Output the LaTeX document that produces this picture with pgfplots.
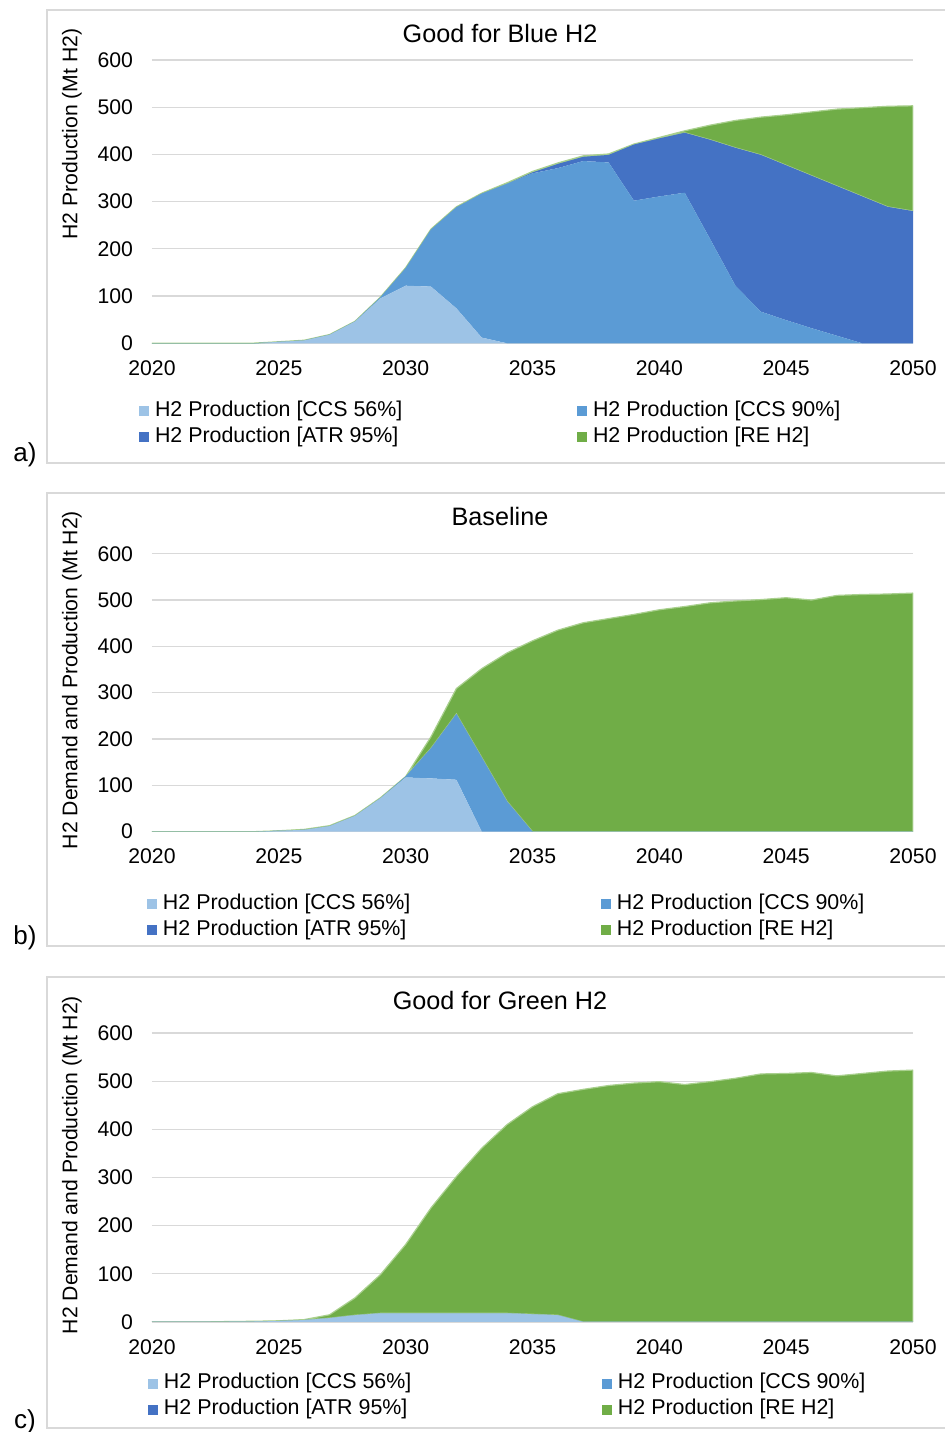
\documentclass[border=0pt]{standalone}
\usepackage{fontspec}
\setmainfont{Liberation Sans}
\usepackage{pgfplots}
\usepackage{pgfplotstable}
\pgfplotsset{compat=1.18}
\definecolor{cA}{HTML}{9DC3E6}
\definecolor{cB}{HTML}{5B9BD5}
\definecolor{cC}{HTML}{4472C4}
\definecolor{cD}{HTML}{70AD47}
\definecolor{reLine}{HTML}{A9D08E}
\definecolor{gridgray}{HTML}{D9D9D9}
\definecolor{framegray}{HTML}{D9D9D9}
\newcommand\ticksize{\fontsize{10.6}{12.7}\selectfont}
\newcommand\legsize{\fontsize{10.7}{12.8}\selectfont}
\newcommand\titlesize{\fontsize{12.6}{15}\selectfont}
\newcommand\panelsize{\fontsize{13}{15.6}\selectfont}

\pgfplotstableread{
year c56 c90 atr re
2020 0 0 0 0
2021 0 0 0 0
2022 0 0 0 0
2023 0 0 0 0
2024 0 0 0 0.3
2025 3 0 0 0.3
2026 6 0 0 0.5
2027 18 0 0 0.5
2028 46 0 0 0.5
2029 95 2 0 0.5
2030 122 37 0 1
2031 120 121 0 1
2032 74 214 0 1
2033 12 305 0 1
2034 0 338 0 2
2035 0 360 2 2
2036 0 371 9 2
2037 0 386 9 2
2038 0 383 16 2
2039 0 302 119 1
2040 0 311 123 2
2041 0 319 127 4
2042 0 221 210 31
2043 0 122 292 58
2044 0 67 332 80
2045 0 49 328 107
2046 0 32 323 135
2047 0 16 317 163
2048 0 0 311 188
2049 0 0 289 213
2050 0 0 280 223
}\dataA

\pgfplotstableread{
year c56 c90 atr re
2020 0 0 0 0
2021 0 0 0 0
2022 0 0 0 0
2023 0 0 0 0
2024 0 0 0 0
2025 2 0 0 0
2026 4 0 0 1
2027 12 0 0 1
2028 34 0 0 1
2029 72 0 0 1
2030 117 2 0 0
2031 115 65 0 25
2032 112 142 0 55
2033 0 160 0 192
2034 0 65 0 321
2035 0 0 0 412
2036 0 0 0 435
2037 0 0 0 451
2038 0 0 0 460
2039 0 0 0 469
2040 0 0 0 479
2041 0 0 0 486
2042 0 0 0 494
2043 0 0 0 498
2044 0 0 0 501
2045 0 0 0 505
2046 0 0 0 500
2047 0 0 0 510
2048 0 0 0 512
2049 0 0 0 513
2050 0 0 0 515
}\dataB

\pgfplotstableread{
year c56 c90 atr re
2020 0 0 0 0
2021 0 0 0 0
2022 0 0 0 0
2023 0.5 0 0 0.5
2024 1 0 0 0.5
2025 2 0 0 0.5
2026 4 0 0 1
2027 8 0 0 7
2028 14 0 0 36
2029 18 0 0 80
2030 18 0 0 143
2031 18 0 0 219
2032 18 0 0 284
2033 18 0 0 343
2034 18 0 0 392
2035 16 0 0 431
2036 14 0 0 460
2037 0 0 0 483
2038 0 0 0 491
2039 0 0 0 496
2040 0 0 0 499
2041 0 0 0 493
2042 0 0 0 499
2043 0 0 0 506
2044 0 0 0 515
2045 0 0 0 516
2046 0 0 0 518
2047 0 0 0 511
2048 0 0 0 516
2049 0 0 0 521
2050 0 0 0 523
}\dataC

\pgfplotsset{
  panel/.style={
    scale only axis, width=380.5pt,
    xmin=2020, xmax=2050, ymin=0, ymax=600,
    xtick={2020,2025,...,2050}, ytick={0,100,...,600},
    ymajorgrids, grid style={draw=gridgray, line width=0.6pt},
    axis line style={draw=none}, major tick length=0pt,
    xticklabel style={font=\ticksize, yshift=-5.2pt},
    yticklabel style={font=\ticksize, xshift=-6pt},
    /pgf/number format/1000 sep={},
    /pgf/number format/assume math mode=true,
    stack plots=y, no markers,
    legend columns=2, legend cell align=left,
    legend image code/.code={\path[##1, draw=none] (0pt,-2.5pt) rectangle (5pt,2.5pt);},
    legend style={anchor=north west, draw=none, fill=none, inner sep=0pt, outer sep=0pt,
      row sep=0pt,
      nodes={inner xsep=3pt, inner ysep=1.5pt, text height=7.6pt, text depth=2.4pt, font=\legsize},
      /tikz/every even column/.append style={column sep=0pt}},
  },
}

\begin{document}
\begin{tikzpicture}[x=0.5pt,y=0.5pt]
\useasboundingbox (0,0) rectangle (944,1432);
% frames
\draw[framegray, line width=0.6pt] (47,1422) rectangle (948,969);
\draw[framegray, line width=0.6pt] (47,939) rectangle (948,486);
\draw[framegray, line width=0.6pt] (47,455) rectangle (948,4);

% ---------- panel a
\begin{axis}[panel, height=141.65pt, at={(76pt,544.35pt)}, anchor=south west,
  legend style={at={(-0.01708,-0.193)}}]
\addplot[fill=cA, draw=none] table[x=year,y=c56]{\dataA} \closedcycle;
\addlegendentry{\makebox[208pt][l]{H2 Production [CCS 56\%]}}
\addplot[fill=cB, draw=none] table[x=year,y=c90]{\dataA} \closedcycle;
\addlegendentry{H2 Production [CCS 90\%]}
\addplot[fill=cC, draw=none] table[x=year,y=atr]{\dataA} \closedcycle;
\addlegendentry{\makebox[208pt][l]{H2 Production [ATR 95\%]}}
\addplot[fill=cD, draw=reLine, line width=0.6pt] table[x=year,y=re]{\dataA} \closedcycle;
\addlegendentry{H2 Production [RE H2]}
\end{axis}

% ---------- panel b
\begin{axis}[panel, height=139pt, at={(76pt,300.15pt)}, anchor=south west,
  legend style={at={(-0.00657,-0.213)}}]
\addplot[fill=cA, draw=none] table[x=year,y=c56]{\dataB} \closedcycle;
\addlegendentry{\makebox[216pt][l]{H2 Production [CCS 56\%]}}
\addplot[fill=cB, draw=none] table[x=year,y=c90]{\dataB} \closedcycle;
\addlegendentry{H2 Production [CCS 90\%]}
\addplot[fill=cC, draw=none] table[x=year,y=atr]{\dataB} \closedcycle;
\addlegendentry{\makebox[216pt][l]{H2 Production [ATR 95\%]}}
\addplot[fill=cD, draw=reLine, line width=0.6pt] table[x=year,y=re]{\dataB} \closedcycle;
\addlegendentry{H2 Production [RE H2]}
\end{axis}

% ---------- panel c
\begin{axis}[panel, height=144.5pt, at={(76pt,55pt)}, anchor=south west,
  legend style={at={(-0.00526,-0.168)}}]
\addplot[fill=cA, draw=none] table[x=year,y=c56]{\dataC} \closedcycle;
\addlegendentry{\makebox[216pt][l]{H2 Production [CCS 56\%]}}
\addplot[fill=cB, draw=none] table[x=year,y=c90]{\dataC} \closedcycle;
\addlegendentry{H2 Production [CCS 90\%]}
\addplot[fill=cC, draw=none] table[x=year,y=atr]{\dataC} \closedcycle;
\addlegendentry{\makebox[216pt][l]{H2 Production [ATR 95\%]}}
\addplot[fill=cD, draw=reLine, line width=0.6pt] table[x=year,y=re]{\dataC} \closedcycle;
\addlegendentry{H2 Production [RE H2]}
\end{axis}

% titles
\node[font=\titlesize] at (500,1398) {Good for Blue H2};
\node[font=\titlesize] at (500,916) {Baseline};
\node[font=\titlesize] at (500,432) {Good for Green H2};
% y labels
\node[font=\ticksize, rotate=90] at (72,1298) {H2 Production (Mt H2)};
\node[font=\ticksize, rotate=90] at (72,752) {H2 Demand and Production (Mt H2)};
\node[font=\ticksize, rotate=90] at (72,267) {H2 Demand and Production (Mt H2)};
% panel letters
\node[font=\panelsize] at (25,977) {a)};
\node[font=\panelsize] at (25,494) {b)};
\node[font=\panelsize] at (25,10) {c)};
\end{tikzpicture}
\end{document}
